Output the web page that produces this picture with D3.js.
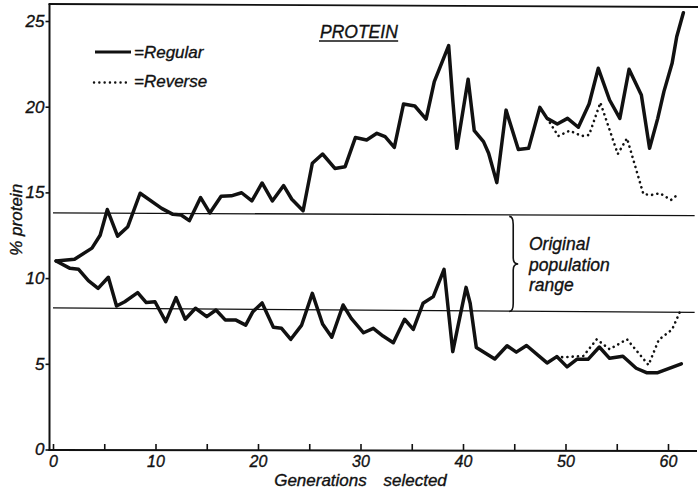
<!DOCTYPE html>
<html>
<head>
<meta charset="utf-8">
<script src="https://cdn.jsdelivr.net/npm/d3@7"></script>
<style>
  html, body { margin: 0; padding: 0; background: #fff; }
  svg { display: block; }
  text { font-family: "Liberation Sans", Arial, sans-serif; font-style: italic; fill: #111; stroke: #111; stroke-width: 0.35px; }
</style>
</head>
<body>
<svg id="chart" width="698" height="491"></svg>
<script>
// ---- DATA ----
const highGen = [0.3, 2.1, 3.8, 4.6, 5.3, 6.3, 7.3, 8.5, 10.6, 11.7, 12.5, 13.3, 14.4, 15.3, 16.4, 17.4, 18.4, 19.4, 20.4, 21.4, 22.5, 23.3, 24.4, 25.3, 26.3, 27.5, 28.5, 29.5, 30.6, 31.6, 32.4, 33.3, 34.2, 35.3, 36.4, 37.2, 38.6, 39.0, 39.4, 40.5, 41.1, 42.0, 42.5, 43.3, 44.2, 45.4, 46.4, 47.5, 48.2, 49.2, 50.2, 51.25, 52.3, 53.2, 54.3, 55.3, 56.2, 57.4, 58.2, 59.0, 59.6, 60.4, 60.85, 61.5];
const highVal = [11.0, 11.1, 11.75, 12.5, 14.0, 12.45, 13.0, 14.95, 14.07, 13.72, 13.68, 13.35, 14.7, 13.8, 14.78, 14.8, 14.98, 14.5, 15.55, 14.5, 15.4, 14.6, 13.93, 16.7, 17.24, 16.4, 16.5, 18.2, 18.06, 18.45, 18.25, 17.63, 20.16, 20.04, 19.28, 21.46, 23.56, 20.4, 17.57, 21.6, 18.6, 17.96, 17.28, 15.57, 19.8, 17.5, 17.57, 19.96, 19.32, 18.99, 19.32, 18.8, 20.16, 22.24, 20.39, 19.32, 22.18, 20.68, 17.57, 19.32, 20.88, 22.53, 24.08, 25.48];

const lowGen = [0.3, 1.66, 2.5, 3.45, 4.4, 5.4, 6.2, 7.0, 8.26, 9.1, 9.95, 11.0, 12.0, 12.9, 13.9, 15.0, 15.9, 16.8, 17.8, 18.8, 19.5, 20.4, 21.5, 22.3, 23.2, 24.26, 25.3, 26.3, 27.2, 28.3, 29.1, 30.3, 31.25, 32.2, 33.2, 34.3, 35.15, 36.1, 37.1, 38.15, 39.0, 39.5, 40.3, 40.7, 41.3, 43.1, 44.3, 45.2, 46.2, 48.2, 49.15, 50.15, 51.1, 52.2, 53.3, 54.3, 55.6, 56.9, 57.9, 59.0, 61.3];
const lowVal = [11.0, 10.57, 10.51, 9.85, 9.4, 10.05, 8.37, 8.62, 9.15, 8.57, 8.62, 7.46, 8.86, 7.6, 8.24, 7.75, 8.14, 7.56, 7.56, 7.26, 8.04, 8.55, 7.13, 7.07, 6.43, 7.26, 9.11, 7.32, 6.55, 8.43, 7.65, 6.81, 7.07, 6.62, 6.23, 7.6, 7.01, 8.53, 8.92, 10.51, 5.71, 7.17, 9.46, 8.53, 5.95, 5.28, 6.05, 5.68, 6.07, 5.05, 5.42, 4.82, 5.26, 5.26, 5.98, 5.32, 5.44, 4.74, 4.48, 4.48, 5.0];

const highRevGen = [48.2, 49.3, 50.4, 51.6, 52.3, 53.4, 55.1, 56.0, 57.6, 58.4, 59.2, 60.3, 61.1];
const highRevVal = [19.32, 18.29, 18.6, 18.29, 18.35, 20.24, 17.24, 18.16, 14.9, 14.85, 14.95, 14.56, 14.95];

const lowRevGen = [49.15, 49.8, 51.75, 53.05, 54.3, 56.0, 58.1, 59.1, 60.4, 61.2];
const lowRevVal = [5.42, 5.38, 5.46, 6.43, 5.85, 6.43, 4.93, 6.4, 7.0, 8.08];

// original population range (left and right ends of the two reference lines)
const rangeGen = [0, 62.6];
const rangeTop = [13.8, 13.65];
const rangeBottom = [8.26, 8.0];

const yTicks = [0, 5, 10, 15, 20, 25];
const xTicks = [0, 5, 10, 15, 20, 25, 30, 35, 40, 45, 50, 55, 60];
const xLabels = [0, 10, 20, 30, 40, 50, 60];

const title = "PROTEIN";
const legendLabels = ["=Regular", "=Reverse"];
const rangeLabel = ["Original", "population", "range"];
const xTitle = "Generations selected";
const yTitle = "% protein";

// ---- DRAWING ----
const svg = d3.select("#chart");
const x = d3.scaleLinear().domain([0, 60]).range([53, 668]);
const y = d3.scaleLinear().domain([0, 25]).range([449.5, 21]);

const ink = "#111";
const axisX = 49.5, axisY = 450, topY = 5, rightX = 697;

// frame
svg.append("line").attr("x1", axisX).attr("x2", axisX).attr("y1", topY - 1).attr("y2", axisY + 1)
  .attr("stroke", ink).attr("stroke-width", 2);
svg.append("line").attr("x1", axisX - 1).attr("x2", rightX).attr("y1", axisY).attr("y2", axisY + 1)
  .attr("stroke", ink).attr("stroke-width", 2);
svg.append("line").attr("x1", axisX - 1).attr("x2", 698).attr("y1", topY - 1).attr("y2", topY + 2)
  .attr("stroke", ink).attr("stroke-width", 1.8);

// y axis
const yAxis = d3.axisLeft(y).tickValues(yTicks).tickSize(4).tickPadding(1).tickFormat(d3.format("d"));
const gy = svg.append("g").attr("transform", `translate(${axisX},0)`).call(yAxis);
gy.select(".domain").remove();
gy.selectAll(".tick line").attr("stroke", ink).attr("stroke-width", 1.6);
gy.selectAll(".tick text").attr("font-size", 17).attr("font-family", null).style("font-style", "italic").attr("fill", ink);

// x axis
const xAxis = d3.axisBottom(x).tickValues(xTicks).tickSize(-6).tickPadding(6)
  .tickFormat(d => xLabels.includes(d) ? d : "");
const gx = svg.append("g").attr("transform", `translate(0,${axisY})`).call(xAxis);
gx.select(".domain").remove();
gx.selectAll(".tick line").attr("stroke", ink).attr("stroke-width", 1.6);
gx.selectAll(".tick text").attr("font-size", 16).attr("font-family", null).style("font-style", "italic").attr("fill", ink);

// axis titles
svg.append("text").attr("x", (x(30)) + 0).attr("y", 486).attr("text-anchor", "middle")
  .attr("font-size", 17).attr("word-spacing", 12).text(xTitle);
svg.append("text").attr("transform", `translate(22,${y(13.4)}) rotate(-90)`).attr("text-anchor", "middle")
  .attr("font-size", 17).text(yTitle);

// original population range lines
[rangeTop, rangeBottom].forEach(v => {
  svg.append("line")
    .attr("x1", x(rangeGen[0])).attr("x2", x(rangeGen[1]))
    .attr("y1", y(v[0])).attr("y2", y(v[1]))
    .attr("stroke", ink).attr("stroke-width", 1.3);
});

// brace
const bx = x(44.9), bTop = y(13.6), bBot = y(8.05), bMid = (bTop + bBot) / 2;
svg.append("path")
  .attr("d", `M${bx - 4},${bTop} Q${bx},${bTop} ${bx},${bTop + 8} L${bx},${bMid - 6} Q${bx},${bMid} ${bx + 5},${bMid} Q${bx},${bMid} ${bx},${bMid + 6} L${bx},${bBot - 8} Q${bx},${bBot} ${bx - 4},${bBot}`)
  .attr("fill", "none").attr("stroke", ink).attr("stroke-width", 1.6);

const lineGen = d3.line().x(d => x(d[0])).y(d => y(d[1]));
const zip = (a, b) => a.map((v, i) => [v, b[i]]);

// reverse (dotted) lines
[[highRevGen, highRevVal], [lowRevGen, lowRevVal]].forEach(([g, v]) => {
  svg.append("path").datum(zip(g, v)).attr("d", lineGen)
    .attr("fill", "none").attr("stroke", ink).attr("stroke-width", 2.6)
    .attr("stroke-linecap", "round").attr("stroke-dasharray", "0.1 5.2");
});

// regular (solid) lines
[[highGen, highVal], [lowGen, lowVal]].forEach(([g, v]) => {
  svg.append("path").datum(zip(g, v)).attr("d", lineGen)
    .attr("fill", "none").attr("stroke", ink).attr("stroke-width", 3.5)
    .attr("stroke-linejoin", "round").attr("stroke-linecap", "round");
});

// title
const t = svg.append("text").attr("x", 320).attr("y", 38).attr("font-size", 17.5).text(title);
const tb = t.node().getBBox();
svg.append("line").attr("x1", tb.x - 1).attr("x2", tb.x + tb.width).attr("y1", 41).attr("y2", 41)
  .attr("stroke", ink).attr("stroke-width", 1.5);

// legend
svg.append("line").attr("x1", 95).attr("x2", 131).attr("y1", 52).attr("y2", 52)
  .attr("stroke", ink).attr("stroke-width", 3.2);
svg.append("text").attr("x", 134).attr("y", 58).attr("font-size", 17).text(legendLabels[0]);
svg.append("line").attr("x1", 94).attr("x2", 131).attr("y1", 82.5).attr("y2", 82.5)
  .attr("stroke", ink).attr("stroke-width", 2.4).attr("stroke-linecap", "round").attr("stroke-dasharray", "0.1 5.2");
svg.append("text").attr("x", 134).attr("y", 87).attr("font-size", 17).text(legendLabels[1]);

// range annotation
const rl = [250, 271, 291];
rangeLabel.forEach((s, i) => {
  svg.append("text").attr("x", 529).attr("y", rl[i]).attr("font-size", 17.5).text(s);
});
</script>
</body>
</html>
